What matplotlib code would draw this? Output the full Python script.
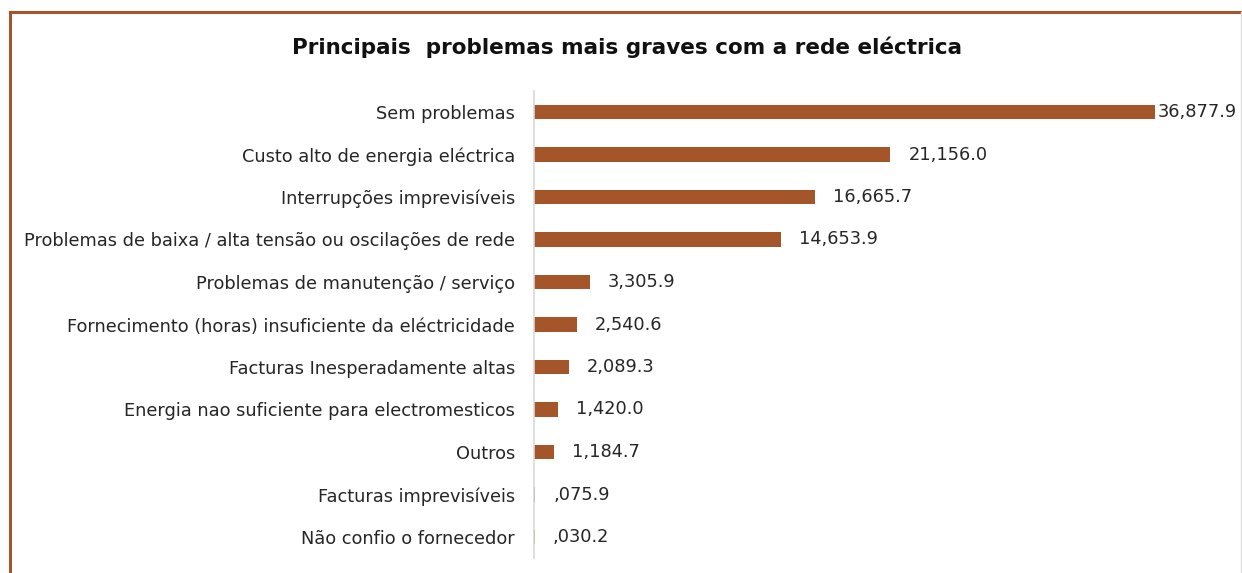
import matplotlib
matplotlib.use("Agg")
import matplotlib.pyplot as plt
from matplotlib.lines import Line2D

categories = [
    "Sem problemas",
    "Custo alto de energia eléctrica",
    "Interrupções imprevisíveis",
    "Problemas de baixa / alta tensão ou oscilações de rede",
    "Problemas de manutenção / serviço",
    "Fornecimento (horas) insuficiente da eléctricidade",
    "Facturas Inesperadamente altas",
    "Energia nao suficiente para electromesticos",
    "Outros",
    "Facturas imprevisíveis",
    "Não confio o fornecedor",
]
values = [36877.9, 21156.0, 16665.7, 14653.9, 3305.9, 2540.6, 2089.3, 1420.0, 1184.7, 75.9, 30.2]
value_labels = ["36,877.9", "21,156.0", "16,665.7", "14,653.9", "3,305.9", "2,540.6",
                "2,089.3", "1,420.0", "1,184.7", ",075.9", ",030.2"]
title = "Principais  problemas mais graves com a rede eléctrica"

W, H = 1242, 573
fig = plt.figure(figsize=(W / 100, H / 100), dpi=100)
plt.rcParams['font.family'] = ['DejaVu Sans']

ax_left, ax_right = 534, 1174
ax_top, ax_bot = 90.75, 558.25
ax = fig.add_axes([ax_left / W, 1 - ax_bot / H, (ax_right - ax_left) / W, (ax_bot - ax_top) / H])

bar_color = "#A5552A"
y = list(range(len(categories)))
ax.barh(y, values, height=0.35, color=bar_color)
ax.set_xlim(0, 38000)
ax.set_ylim(len(categories) - 0.5, -0.5)
ax.set_yticks(y)
ax.set_yticklabels(categories, fontsize=12.8, color="#262626")
ax.tick_params(axis="y", length=0, pad=13.7)
ax.set_xticks([])
for s in ["top", "right", "bottom"]:
    ax.spines[s].set_visible(False)
ax.spines["left"].set_color("#D9D9D9")
ax.spines["left"].set_linewidth(1.2)

for i, (v, lab) in enumerate(zip(values, value_labels)):
    off = 3 if i == 0 else 18
    ax.annotate(lab, xy=(v, i), xytext=(off, 0), textcoords="offset pixels",
                va="center", ha="left", fontsize=12.8, color="#262626")

fig.text(627 / W, 1 - 47 / H, title, ha="center", va="center",
         fontsize=15.5, fontweight="bold", color="#111111")

# frame
fig.add_artist(Line2D([10 / W, 1], [1 - 11.5 / H, 1 - 11.5 / H], color="#A5552A", lw=2.2))
fig.add_artist(Line2D([10 / W, 10 / W], [0, 1 - 11.5 / H], color="#A5552A", lw=2.2))
fig.add_artist(Line2D([1241 / W, 1241 / W], [0, 1 - 12 / H], color="#E0E0E0", lw=1))

fig.savefig("out.png", dpi=100)
